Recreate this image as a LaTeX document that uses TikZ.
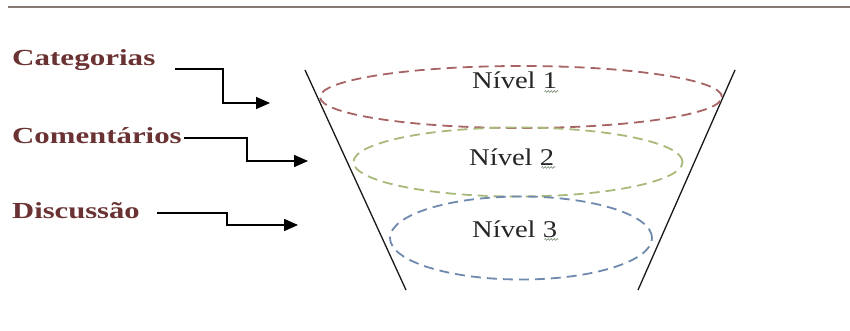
\documentclass[tikz,border=0pt]{standalone}
\usepackage{fontspec}
\setmainfont{Liberation Serif}
\usetikzlibrary{shapes.geometric,decorations.pathmorphing,arrows.meta}
\definecolor{labred}{HTML}{6A3232}
\definecolor{topline}{HTML}{857A76}
\definecolor{ellred}{HTML}{A86464}
\definecolor{ellgreen}{HTML}{A9B97A}
\definecolor{ellblue}{HTML}{6F8AAE}
\definecolor{squig}{HTML}{7E9076}
\begin{document}
\begin{tikzpicture}[x=1pt,y=-1pt,
  lab/.style={inner sep=0pt,anchor=base west,text=labred,font=\fontsize{23}{26}\selectfont\bfseries},
  lvl/.style={inner sep=0pt,anchor=base west,text=black!85,font=\fontsize{24}{28}\selectfont},
  ell/.style={ellipse,draw,line width=1.8pt,dash pattern=on 10pt off 6pt,inner sep=0pt},
  funnel/.style={line width=1.3pt,black!90},
  conn/.style={line width=1.6pt,-{Triangle[length=14pt,width=12pt]}},
  wig/.style={squig,line width=0.6pt,decorate,decoration={snake,amplitude=0.9pt,segment length=3pt}}
]
\useasboundingbox (0,0) rectangle (850,331);
\fill[white] (0,0) rectangle (850,331);
% top rule
\coordinate (tl) at (8,7);
\coordinate (tr) at (850,7);
\draw[topline,line width=1.2pt] (tl) -- (tr);
% funnel
\coordinate (fl1) at (305,70);
\coordinate (fl2) at (406,290);
\coordinate (fr1) at (735,70);
\coordinate (fr2) at (638,290);
\draw[funnel] (fl1) -- (fl2);
\draw[funnel] (fr1) -- (fr2);
% ellipses
\node[ell,draw=ellred,minimum width=402pt,minimum height=62pt] (e1) at (521,97) {};
\node[ell,draw=ellgreen,minimum width=329pt,minimum height=69pt] (e2) at (518,162) {};
\node[ell,draw=ellblue,minimum width=262pt,minimum height=83pt] (e3) at (521,238) {};
% level texts
\node[lvl] (n1) at (472,89) {\scalebox{1.19}[1]{Nível 1}};
\node[lvl] (n2) at (469,165) {\scalebox{1.19}[1]{Nível 2}};
\node[lvl] (n3) at (472,237) {\scalebox{1.19}[1]{Nível 3}};
\draw[wig] (n1.south east) ++(-13,2) -- ++(14,0);
\draw[wig] (n2.south east) ++(-13,2) -- ++(14,0);
\draw[wig] (n3.south east) ++(-13,2) -- ++(14,0);
% labels
\node[lab] (cat) at (12,66) {\scalebox{1.35}[1]{Categorias}};
\node[lab] (com) at (12,144) {\scalebox{1.34}[1]{Comentários}};
\node[lab] (dis) at (12,218) {\scalebox{1.33}[1]{Discussão}};
% arrow ends
\coordinate (a1s) at (175,69);
\coordinate (a1t) at (270,103);
\coordinate (a2s) at (184,138);
\coordinate (a2t) at (308,161);
\coordinate (a3s) at (157,213);
\coordinate (a3t) at (298,225);
\draw[conn] (a1s) -| (223,103) -- (a1t);
\draw[conn] (a2s) -| (247,161) -- (a2t);
\draw[conn] (a3s) -| (227,225) -- (a3t);
\end{tikzpicture}
\end{document}
